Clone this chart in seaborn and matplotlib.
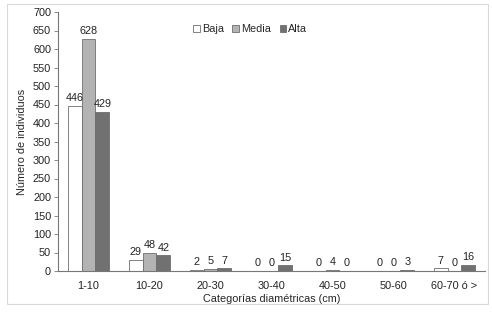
import pandas as pd
import matplotlib.pyplot as plt
import seaborn as sns
from matplotlib.patches import Rectangle

# Datos
categorias = ['1-10', '10-20', '20-30', '30-40', '40-50', '50-60', '60-70 ó >']
baja = [446, 29, 2, 0, 0, 0, 7]
media = [628, 48, 5, 0, 4, 0, 0]
alta = [429, 42, 7, 15, 0, 3, 16]
niveles = ['Baja', 'Media', 'Alta']
colores = ['#ffffff', '#b3b3b3', '#717171']

df = pd.DataFrame({
    'Categoria': categorias * 3,
    'Nivel': sum([[n] * len(categorias) for n in niveles], []),
    'Individuos': baja + media + alta,
})

sns.set_style('white')
plt.rcParams['font.family'] = ['Liberation Sans', 'DejaVu Sans']

fig = plt.figure(figsize=(4.92, 3.18), dpi=100)
ax = fig.add_axes([58 / 492, 1 - 271 / 318, 427 / 492, (271 - 12) / 318])

sns.barplot(data=df, x='Categoria', y='Individuos', hue='Nivel', order=categorias,
            hue_order=niveles, palette=colores, width=0.68, edgecolor='#6e6e6e',
            linewidth=0.6, saturation=1, ax=ax)

for cont in ax.containers:
    ax.bar_label(cont, fmt='%d', padding=2, fontsize=7.8, color='#222222')

ax.set_ylim(0, 700)
ax.set_yticks(range(0, 701, 50))
ax.set_xlim(-0.5, len(categorias) - 0.5)
ax.set_xlabel('Categorías diamétricas (cm)', fontsize=7.8, labelpad=2)
ax.set_ylabel('Número de individuos', fontsize=7.8, labelpad=4)
ax.tick_params(axis='both', labelsize=7.8, colors='#222222', pad=2)
ax.tick_params(axis='y', left=True, length=3, width=0.6, color='#777777')
ax.tick_params(axis='x', bottom=False, pad=4)

for s in ['top', 'right']:
    ax.spines[s].set_visible(False)
for s in ['left', 'bottom']:
    ax.spines[s].set_color('#777777')
    ax.spines[s].set_linewidth(0.8)

ax.legend(loc='upper center', bbox_to_anchor=(0.45, 0.99), ncol=3, frameon=False,
          fontsize=7.8, handlelength=0.6, handleheight=0.6, handletextpad=0.2,
          columnspacing=0.8, title=None)

# Marco exterior del gráfico
fig.patches.append(Rectangle((7 / 492, 1 - 304 / 318), 481 / 492, 300 / 318,
                             transform=fig.transFigure, fill=False,
                             edgecolor='#d9d9d9', linewidth=0.8))

fig.savefig('out.png', dpi=100)
